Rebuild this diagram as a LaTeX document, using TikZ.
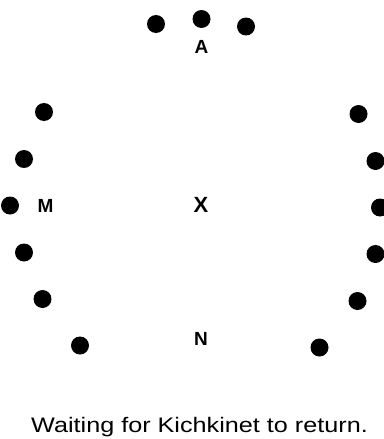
\documentclass[tikz,border=0pt]{standalone}
\usepackage{graphicx}
\usepackage{fontspec}
\setmainfont{Liberation Sans}
\begin{document}
\begin{tikzpicture}[x=1pt,y=-1pt,
  dot/.style={circle,fill=black,draw=none,inner sep=0pt,minimum size=18pt},
  lbl/.style={inner sep=0pt,anchor=base,font=\fontsize{19}{19}\selectfont\bfseries},
  captext/.style={inner sep=0pt,anchor=base,font=\fontsize{21}{21}\selectfont}]
\useasboundingbox (0,0) rectangle (383,439);
% top
\node[dot] (t1) at (156,24) {};
\node[dot] (t2) at (201.5,19) {};
\node[dot] (t3) at (246,26.5) {};
% left
\node[dot] (l1) at (44,112) {};
\node[dot] (l2) at (24,159) {};
\node[dot] (l3) at (10,205.5) {};
\node[dot] (l4) at (24,252.5) {};
\node[dot] (l5) at (42.5,299) {};
\node[dot] (l6) at (80,345.5) {};
% right
\node[dot] (r1) at (358.5,114) {};
\node[dot] (r2) at (375.5,161) {};
\node[dot] (r3) at (380,207.5) {};
\node[dot] (r4) at (375.5,254) {};
\node[dot] (r5) at (357.5,301) {};
\node[dot] (r6) at (319.5,347.5) {};
% labels
\node[lbl] (A) at (201.5,53) {A};
\node[lbl] (M) at (45.5,212.5) {M};
\node[lbl,font=\fontsize{22}{22}\selectfont\bfseries] (X) at (201,212) {X};
\node[lbl] (N) at (201,345) {N};
% caption
\node[captext] (caption) at (199.5,432) {\scalebox{1.2}[1]{Waiting for Kichkinet to return.}};
\end{tikzpicture}
\end{document}
